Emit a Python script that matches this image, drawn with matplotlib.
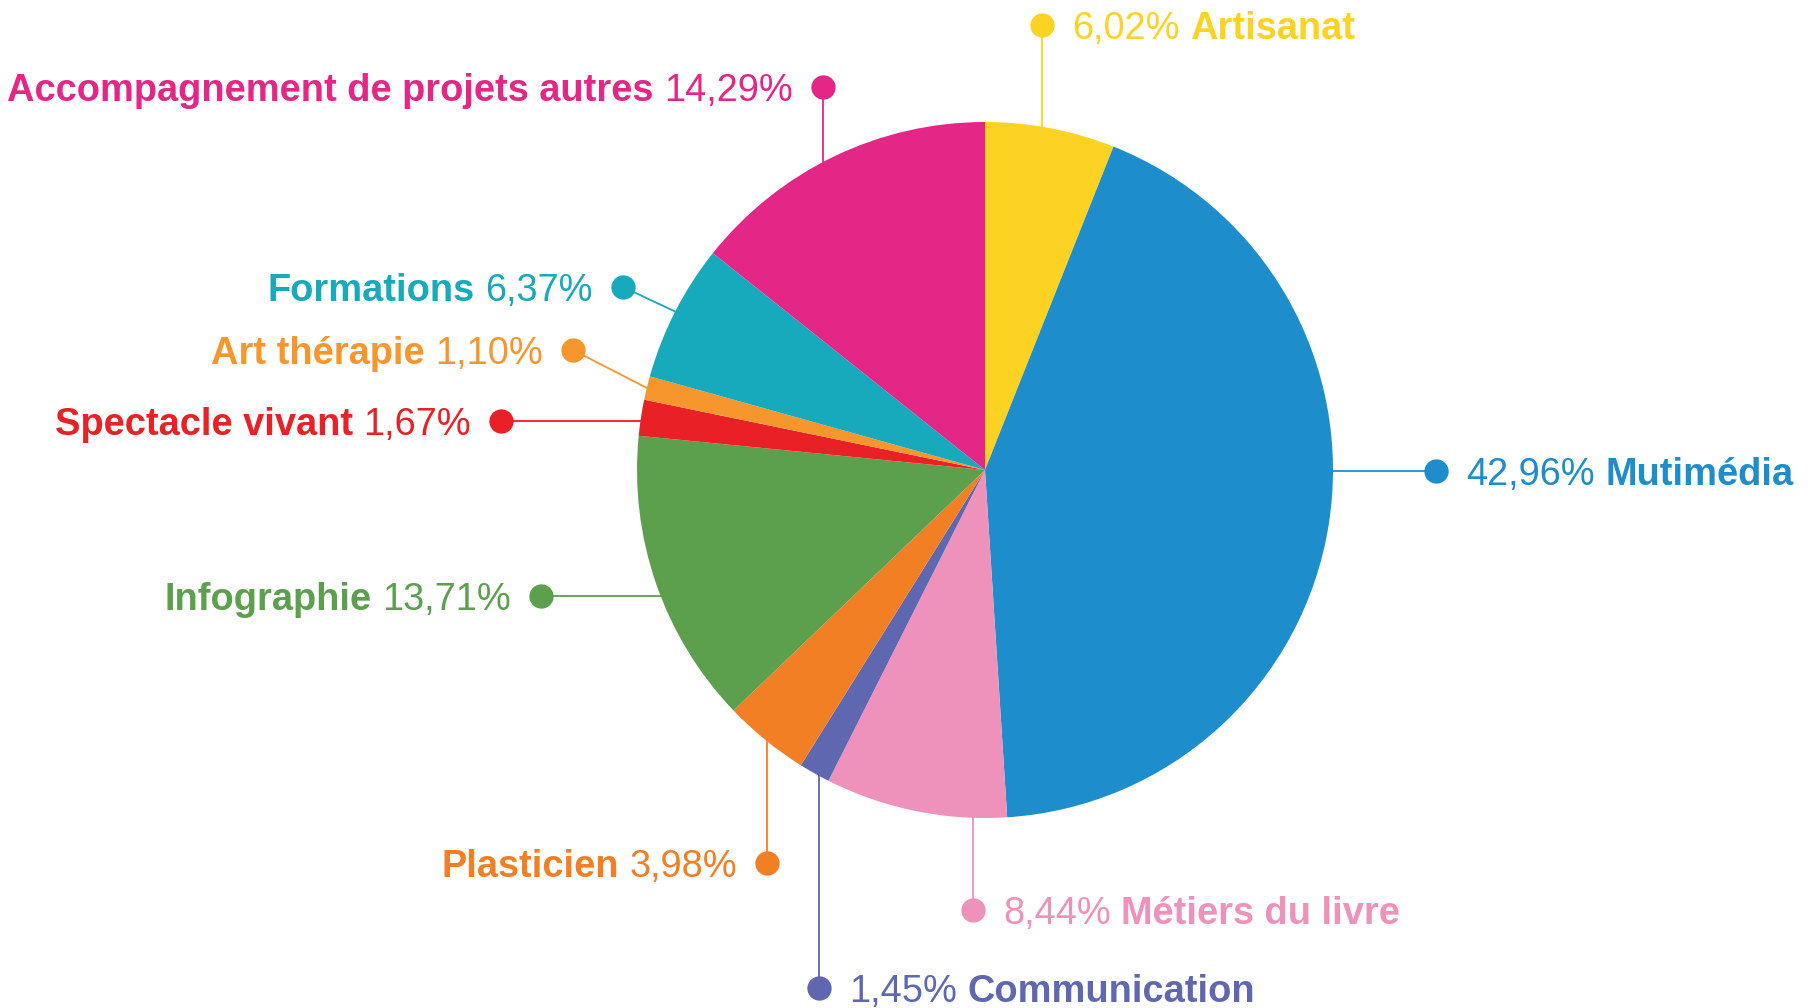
import matplotlib
matplotlib.use('Agg')
import matplotlib.pyplot as plt
import numpy as np

W, H = 1816, 1008

# slices, clockwise from 12 o'clock
categories = ['Artisanat', 'Mutimédia', 'Métiers du livre', 'Communication', 'Plasticien',
              'Infographie', 'Spectacle vivant', 'Art thérapie', 'Formations',
              'Accompagnement de projets autres']
shares = [6.02, 42.96, 8.44, 1.45, 3.98, 13.71, 1.67, 1.10, 6.37, 14.29]
colors = ['#FDD323', '#1D8DCB', '#EE92BC', '#5F67B0', '#F37F25',
          '#5CA04E', '#E92025', '#F7962D', '#16AABC', '#E42687']

# label layout: dot position (pixels, y from top), text side, connector kind
dots = [(1042, 25), (1436, 471), (973, 910), (819, 988), (767, 863),
        (541, 596), (501, 421), (573, 350), (623, 287), (823, 87)]
sides = ['R', 'R', 'R', 'R', 'L', 'L', 'L', 'L', 'L', 'L']
links = ['v', 'h', 'v', 'v', 'v', 'h', 'h', 'm', 'm', 'v']

CX, CY, R = 985, H - 470, 348
FS = 27.4

fig = plt.figure(figsize=(W / 100, H / 100), dpi=100)
ax = fig.add_axes([0, 0, 1, 1])
wedges, _ = ax.pie(shares, colors=colors, startangle=90, counterclock=False,
                   center=(CX, CY), radius=R, wedgeprops=dict(linewidth=0))
ax.set_xlim(0, W)
ax.set_ylim(0, H)
ax.set_aspect('equal')
ax.axis('off')


def edge_point(i, x, y):
    if links[i] == 'v':
        d = np.sqrt(max(R ** 2 - (x - CX) ** 2, 0))
        return x, CY + d if y > CY else CY - d
    if links[i] == 'h':
        d = np.sqrt(max(R ** 2 - (y - CY) ** 2, 0))
        return (CX + d if x > CX else CX - d), y
    w = wedges[i]
    th = np.deg2rad((w.theta1 + w.theta2) / 2)
    return CX + R * np.cos(th), CY + R * np.sin(th)


renderer = fig.canvas.get_renderer()
inv = ax.transData.inverted()


def text_width(t):
    bb = t.get_window_extent(renderer)
    p0 = inv.transform((bb.x0, bb.y0))
    p1 = inv.transform((bb.x1, bb.y1))
    return p1[0] - p0[0]


cap = 0.716 * FS * 100 / 72
space = 0.28 * FS * 100 / 72
gap = 30

for i, name in enumerate(categories):
    x, y = dots[i][0], H - dots[i][1]
    c = colors[i]
    ex, ey = edge_point(i, x, y)
    ax.plot([ex, x], [ey, y], color=c, lw=1.3, zorder=3)
    ax.plot(x, y, 'o', color=c, ms=17.5, mec='none', zorder=4)
    pct = f'{shares[i]:.2f}%'.replace('.', ',')
    by = y - cap / 2
    if sides[i] == 'L':
        t1 = ax.text(x - gap, by, pct, color=c, fontsize=FS, ha='right', va='baseline',
                     family='Liberation Sans')
        w1 = text_width(t1)
        ax.text(x - gap - w1 - space, by, name, color=c, fontsize=FS, ha='right',
                va='baseline', family='Liberation Sans', fontweight='bold')
    else:
        t1 = ax.text(x + gap, by, pct, color=c, fontsize=FS, ha='left', va='baseline',
                     family='Liberation Sans')
        w1 = text_width(t1)
        ax.text(x + gap + w1 + space, by, name, color=c, fontsize=FS, ha='left',
                va='baseline', family='Liberation Sans', fontweight='bold')

fig.savefig('out.png', dpi=100, facecolor='white')
